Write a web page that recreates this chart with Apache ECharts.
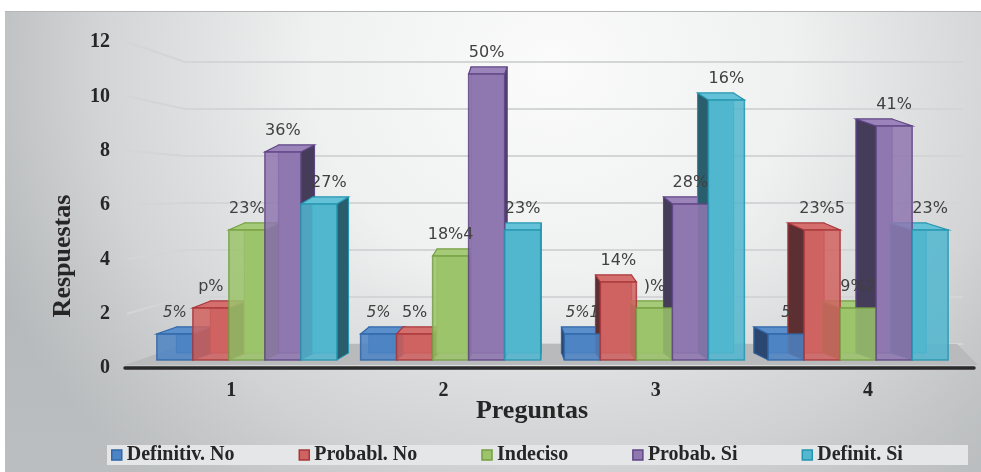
<!DOCTYPE html>
<html>
<head>
<meta charset="utf-8">
<script src="https://cdn.jsdelivr.net/npm/echarts@6/dist/echarts.min.js"></script>
<style>
  html, body { margin: 0; padding: 0; background: #ffffff; }
  #wrap { position: relative; width: 981px; height: 472px; overflow: hidden; }
  #bg {
    position: absolute; left: 5px; top: 11px; width: 976px; height: 461px;
    border-top: 1px solid #b4b6b8;
    background:
      linear-gradient(to bottom, rgba(255,255,255,0) 55%, rgba(200,202,204,0.35) 100%),
      radial-gradient(ellipse 62% 120% at 56% 12%, #fbfbfb 0%, #eff0f0 40%, #d2d4d5 75%, #b5b8ba 100%);
  }
  #chart { position: absolute; left: 0; top: 0; width: 981px; height: 472px; }
</style>
</head>
<body>
<div id="wrap">
  <div id="bg"></div>
  <div id="chart"></div>
</div>
<script>
// Questions on the x axis and the answer categories (series)
const categories = ['1', '2', '3', '4'];
const seriesNames = ['Definitiv. No', 'Probabl. No', 'Indeciso', 'Probab. Si', 'Definit. Si'];

// Number of answers per question
const definitivNo = [1, 1, 1, 1];
const probablNo   = [2, 1, 3, 5];
const indeciso    = [5, 4, 2, 2];
const probabSi    = [8, 11, 6, 9];
const definitSi   = [6, 5, 10, 5];

// Data labels printed above each bar
const labelsDefinitivNo = ['5%', '5%', '5%1', '5'];
const labelsProbablNo   = ['p%', '5%', '14%', '23%5'];
const labelsIndeciso    = ['23%', '18%4', ')%', '9%2'];
const labelsProbabSi    = ['36%', '50%', '28%', '41%'];
const labelsDefinitSi   = ['27%', '23%', '16%', '23%'];

// Value axis ticks
const yTicks = [0, 2, 4, 6, 8, 10, 12];

// ---- styling ----
const palette = [
  { fill: '#4d84c4', border: '#2f66a8', side: '#2b4770', top: '#5a8fcc' },
  { fill: '#cf6361', border: '#a9373a', side: '#5c3033', top: '#d46f6d' },
  { fill: '#9cc46b', border: '#76a043', side: '#5b773a', top: '#a5cb78' },
  { fill: '#8f77b0', border: '#5f4585', side: '#453c5a', top: '#9a84ba' },
  { fill: '#52b7cf', border: '#2595b0', side: '#2a5e6d', top: '#63c2d8' }
];
const serifFont = '"Liberation Serif", "Times New Roman", serif';
const labelFont = '"DejaVu Sans", sans-serif';
const BAR_RATIO = 36 / 203.7;   // bar width as a share of the category band
const VANISH_X = 530;           // horizontal vanishing point of the pseudo-3D boxes
const DEPTH_K = 0.055;
const DEPTH_DY = -7;
const LABEL_GAP = 13;
// label moved sideways so it clears the neighbouring box's side face (series-category)
const LABEL_NUDGE = { '4-0': 10 };

const values = [definitivNo, probablNo, indeciso, probabSi, definitSi];
const labels = [labelsDefinitivNo, labelsProbablNo, labelsIndeciso, labelsProbabSi, labelsDefinitSi];

function boxGeom(api, idx) {
  const cat = api.value(0);
  const val = api.value(1);
  const top = api.coord([cat, val]);
  const base = api.coord([cat, 0]);
  const band = api.size([1, 0])[0];
  const w = band * BAR_RATIO;
  const cx = top[0] + (idx - 2) * w;
  return {
    cx: cx, x0: cx - w / 2, x1: cx + w / 2, w: w,
    yT: top[1], yB: base[1],
    dx: (VANISH_X - cx) * DEPTH_K, dy: DEPTH_DY
  };
}

// back, side and top faces of each box
function depthRenderer(idx) {
  const c = palette[idx];
  return function (params, api) {
    const g = boxGeom(api, idx);
    const sx = g.dx > 0 ? g.x1 : g.x0;
    return {
      type: 'group',
      children: [
        { type: 'rect',
          shape: { x: g.x0 + g.dx, y: g.yT + g.dy, width: g.w, height: g.yB - g.yT },
          style: { fill: c.fill, stroke: c.border, lineWidth: 1.2 } },
        { type: 'polygon',
          shape: { points: [[sx, g.yT], [sx + g.dx, g.yT + g.dy], [sx + g.dx, g.yB + g.dy], [sx, g.yB]] },
          style: { fill: c.side, stroke: c.border, lineWidth: 1 } },
        { type: 'polygon',
          shape: { points: [[g.x0, g.yT], [g.x1, g.yT], [g.x1 + g.dx, g.yT + g.dy], [g.x0 + g.dx, g.yT + g.dy]] },
          style: { fill: c.top, stroke: c.border, lineWidth: 1.2 } }
      ]
    };
  };
}

// translucent front face of each box
function frontRenderer(idx) {
  const c = palette[idx];
  return function (params, api) {
    const g = boxGeom(api, idx);
    return {
      type: 'rect',
      shape: { x: g.x0, y: g.yT, width: g.w, height: g.yB - g.yT },
      style: { fill: c.fill, opacity: 0.86, stroke: c.border, lineWidth: 1.5 }
    };
  };
}

// value labels, drawn above every box
function labelRenderer(idx) {
  const italic = idx === 0;
  return function (params, api) {
    const g = boxGeom(api, idx);
    const nudge = LABEL_NUDGE[idx + '-' + params.dataIndex] || 0;
    return {
      type: 'text',
      x: g.cx + nudge, y: g.yT - LABEL_GAP,
      style: {
        text: labels[idx][params.dataIndex],
        font: (italic ? 'italic 15px ' : '16px ') + labelFont,
        fill: '#404040', align: 'center', verticalAlign: 'bottom'
      }
    };
  };
}

const series = [];
[[depthRenderer, 2], [frontRenderer, 3], [labelRenderer, 4]].forEach(function (pass) {
  values.forEach(function (vals, i) {
    series.push({
      name: seriesNames[i], type: 'custom', xAxisIndex: 1, yAxisIndex: 1, z: pass[1],
      itemStyle: { color: palette[i].fill },
      renderItem: pass[0](i),
      encode: { x: 0, y: 1 },
      data: vals.map(function (v, k) { return [k, v]; }),
      silent: true
    });
  });
});

const chart = echarts.init(document.getElementById('chart'), null, { renderer: 'canvas' });

const option = {
  backgroundColor: 'transparent',
  animation: false,
  grid: [
    // axis labels and baseline
    { left: 125, right: 7, top: 42, bottom: 104 },
    // bar fronts
    { left: 145, right: 21, top: 48, bottom: 112 },
    // back wall gridlines
    { left: 185, right: 18, top: 62, bottom: 128 }
  ],
  xAxis: [
    { type: 'category', gridIndex: 0, data: categories,
      axisLine: { lineStyle: { color: '#2a2a2a', width: 3.5 } },
      axisTick: { show: false },
      axisLabel: { margin: 13, fontFamily: serifFont, fontWeight: 'bold', fontSize: 20, color: '#262626' } },
    { type: 'category', gridIndex: 1, data: categories, show: false },
    { type: 'category', gridIndex: 2, data: categories, show: false }
  ],
  yAxis: [
    { type: 'value', gridIndex: 0, min: yTicks[0], max: yTicks[yTicks.length - 1], interval: 2,
      axisLine: { show: false }, axisTick: { show: false }, splitLine: { show: false },
      axisLabel: { margin: 15, fontFamily: serifFont, fontWeight: 'bold', fontSize: 20, color: '#262626' } },
    { type: 'value', gridIndex: 1, min: 0, max: 12, interval: 2, show: false, splitLine: { show: false } },
    { type: 'value', gridIndex: 2, min: 0, max: 12, interval: 2,
      axisLine: { show: false }, axisTick: { show: false }, axisLabel: { show: false },
      splitLine: { show: true, lineStyle: { color: '#d3d5d6', width: 2 } } }
  ],
  legend: {
    left: 111, top: 445, padding: 0,
    itemWidth: 10, itemHeight: 10, itemGap: 64,
    icon: 'rect',
    textStyle: { fontFamily: serifFont, fontWeight: 'bold', fontSize: 20, color: '#262626', padding: [0, 0, 0, 0] },
    data: seriesNames.map(function (n, i) {
      return { name: n, itemStyle: { color: palette[i].fill, borderColor: palette[i].border, borderWidth: 1.5 } };
    })
  },
  series: series
};
chart.setOption(option);

// Decorations placed from the axes' own pixel mapping
function px(axisIdx, v) { return chart.convertToPixel({ yAxisIndex: axisIdx }, v); }
function bandEdge(axisIdx, cat, side) {
  const a = chart.convertToPixel({ xAxisIndex: axisIdx }, 0);
  const b = chart.convertToPixel({ xAxisIndex: axisIdx }, 1);
  return chart.convertToPixel({ xAxisIndex: axisIdx }, cat) + side * (b - a) / 2;
}
const wallLeft = bandEdge(2, 0, -1);
const wallRight = bandEdge(2, 3, 1);
const axisLeft = bandEdge(0, 0, -1);
const axisRight = bandEdge(0, 3, 1);

const graphics = [
  { type: 'rect', z: -2, shape: { x: 107, y: 445, width: 861, height: 20 }, style: { fill: '#e5e6e7' } },
  { type: 'text', z: 5, x: 63, y: 256, rotation: Math.PI / 2,
    style: { text: 'Respuestas', font: 'bold 26px ' + serifFont, fill: '#262626', align: 'center', verticalAlign: 'middle' } },
  { type: 'text', z: 5, x: 532, y: 411,
    style: { text: 'Preguntas', font: 'bold 26px ' + serifFont, fill: '#262626', align: 'center', verticalAlign: 'middle' } }
];
yTicks.forEach(function (v) {
  if (v === 0) return;
  graphics.push({
    type: 'line', z: 0,
    shape: { x1: axisLeft + 2, y1: px(0, v), x2: wallLeft, y2: px(2, v) },
    style: { stroke: '#d3d5d6', lineWidth: 2 }
  });
});
// floor under the bars
const y0Front = px(0, 0) - 3;
const y0Back = px(2, 0);
graphics.push({
  type: 'polygon', z: 1,
  shape: { points: [[axisLeft, y0Front], [axisRight + 4, y0Front], [wallRight - 6, y0Back], [wallLeft, y0Back]] },
  style: { fill: '#b9babb' }
});
chart.setOption({ graphic: { elements: graphics } });
</script>
</body>
</html>
